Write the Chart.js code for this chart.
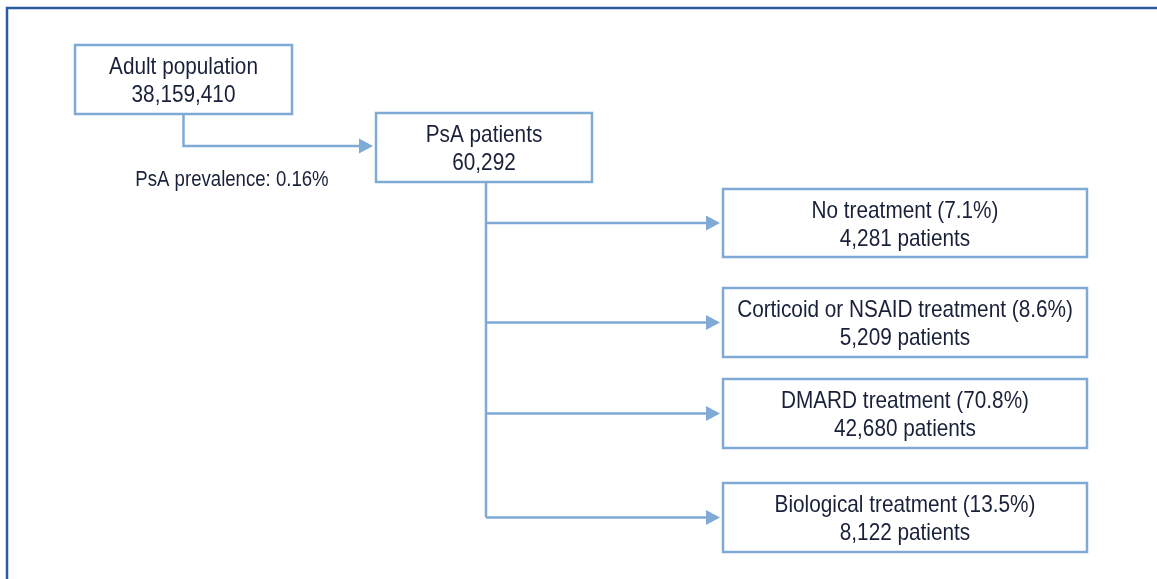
<!DOCTYPE html>
<html>
<head>
<meta charset="utf-8">
<title>PsA patient flow</title>
<script src="https://cdn.jsdelivr.net/npm/chart.js@4.4.0/dist/chart.umd.min.js"></script>
<style>
  html, body { margin: 0; padding: 0; background: #ffffff; }
  #flowChart { display: block; }
</style>
</head>
<body>
<canvas id="flowChart" width="1157" height="579"></canvas>
<script>
// values
const populationLabel = 'Adult population';
const populationCount = 38159410;
const prevalenceLabel = 'PsA prevalence';
const prevalencePct = 0.16;
const patientsLabel = 'PsA patients';
const patientsCount = 60292;
const treatmentGroups = ['No treatment', 'Corticoid or NSAID treatment', 'DMARD treatment', 'Biological treatment'];
const treatmentPct = [7.1, 8.6, 70.8, 13.5];
const treatmentPatients = [4281, 5209, 42680, 8122];

// layout (in scale units, 1 unit = 1 px)
const popBox = { x0: 75, x1: 292, y0: 45, y1: 114 };
const patBox = { x0: 376, x1: 592, y0: 113, y1: 182 };
const treatX = [723, 1087];
const treatY = [[189, 257], [288, 357], [379, 448], [483, 552]];
const elbowY = 146;
const trunkX = 486;
const arrowTipX = 720;

const lineColor = '#80aad6';
const frameColor = '#2b5c9f';
const textColor = '#19213a';
const fontFamily = '"Liberation Sans", Arial, sans-serif';
const narrow = 0.865;   // squeeze to mimic a condensed face

function fmt(n) {
    return n.toLocaleString('en-US');
}

// connector lines as datasets
var connectors = [];
var popX = (popBox.x0 + popBox.x1) / 2;
connectors.push([{ x: popX, y: popBox.y1 }, { x: popX, y: elbowY }, { x: patBox.x0 - 8, y: elbowY }]);
var branchY = treatY.map(function(r) { return (r[0] + r[1]) / 2; });
connectors.push([{ x: trunkX, y: patBox.y1 }, { x: trunkX, y: branchY[branchY.length - 1] }]);
for (var i = 0; i < branchY.length; i++) {
    connectors.push([{ x: trunkX, y: branchY[i] }, { x: arrowTipX - 8, y: branchY[i] }]);
}

var arrowHeads = [{ x: patBox.x0 - 3, y: elbowY }];
for (var j = 0; j < branchY.length; j++) {
    arrowHeads.push({ x: arrowTipX, y: branchY[j] });
}

function narrowText(ctx, str, x, y) {
    ctx.save();
    ctx.translate(x, y);
    ctx.scale(narrow, 1);
    ctx.fillText(str, 0, 0);
    ctx.restore();
}

const flowPlugin = {
    id: 'flowBoxes',
    afterDatasetsDraw: function(chart) {
        var ctx = chart.ctx;
        var xs = chart.scales.x;
        var ys = chart.scales.y;
        var px = function(v) { return xs.getPixelForValue(v); };
        var py = function(v) { return ys.getPixelForValue(v); };

        ctx.save();

        // outer frame
        ctx.strokeStyle = frameColor;
        ctx.lineWidth = 2.5;
        ctx.beginPath();
        ctx.moveTo(px(7), py(579));
        ctx.lineTo(px(7), py(8));
        ctx.lineTo(px(1157), py(8));
        ctx.stroke();

        // arrow heads
        ctx.fillStyle = lineColor;
        arrowHeads.forEach(function(a) {
            ctx.beginPath();
            ctx.moveTo(px(a.x), py(a.y));
            ctx.lineTo(px(a.x - 14), py(a.y - 7.5));
            ctx.lineTo(px(a.x - 14), py(a.y + 7.5));
            ctx.closePath();
            ctx.fill();
        });

        function box(b, lines) {
            var x0 = px(b.x0), x1 = px(b.x1), y0 = py(b.y0), y1 = py(b.y1);
            ctx.fillStyle = '#ffffff';
            ctx.fillRect(x0, y0, x1 - x0, y1 - y0);
            ctx.strokeStyle = lineColor;
            ctx.lineWidth = 2.5;
            ctx.strokeRect(x0, y0, x1 - x0, y1 - y0);
            ctx.fillStyle = textColor;
            ctx.font = '24px ' + fontFamily;
            ctx.textAlign = 'center';
            ctx.textBaseline = 'alphabetic';
            var cx = (x0 + x1) / 2;
            var cy = (y0 + y1) / 2;
            narrowText(ctx, lines[0], cx, cy - 5.5);
            narrowText(ctx, lines[1], cx, cy + 22.5);
        }

        box(popBox, [populationLabel, fmt(populationCount)]);
        box(patBox, [patientsLabel, fmt(patientsCount)]);
        for (var k = 0; k < treatmentGroups.length; k++) {
            box({ x0: treatX[0], x1: treatX[1], y0: treatY[k][0], y1: treatY[k][1] },
                [treatmentGroups[k] + ' (' + treatmentPct[k].toFixed(1) + '%)',
                 fmt(treatmentPatients[k]) + ' patients']);
        }

        // prevalence note
        ctx.fillStyle = textColor;
        ctx.font = '21.5px ' + fontFamily;
        ctx.textAlign = 'center';
        ctx.textBaseline = 'alphabetic';
        narrowText(ctx, prevalenceLabel + ': ' + prevalencePct.toFixed(2) + '%', px(232), py(186));

        ctx.restore();
    }
};

const ctx = document.getElementById('flowChart');
const flowChart = new Chart(ctx, {
    type: 'scatter',
    data: {
        datasets: connectors.map(function(pts) {
            return {
                data: pts,
                showLine: true,
                borderColor: lineColor,
                borderWidth: 2.5,
                pointRadius: 0,
                tension: 0,
                fill: false
            };
        })
    },
    options: {
        responsive: false,
        animation: false,
        layout: { padding: 0 },
        plugins: {
            legend: { display: false },
            tooltip: { enabled: false }
        },
        scales: {
            x: { type: 'linear', min: 0, max: 1157, display: false },
            y: { type: 'linear', min: 0, max: 579, reverse: true, display: false }
        }
    },
    plugins: [flowPlugin]
});
</script>
</body>
</html>
